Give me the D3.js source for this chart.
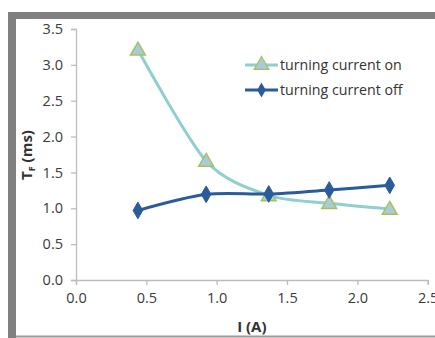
<!DOCTYPE html>
<html>
<head>
<meta charset="utf-8">
<script src="https://cdn.jsdelivr.net/npm/d3@7"></script>
<style>
  body { margin: 0; background: #fff; }
  svg { display: block; font-family: "Open Sans", sans-serif; }
</style>
</head>
<body>
<div id="chart"></div>
<script>
// data
const currents = [0.44, 0.925, 1.37, 1.80, 2.23];
const turnOn = [3.21, 1.66, 1.18, 1.07, 0.99];
const turnOff = [0.97, 1.195, 1.20, 1.255, 1.32];
const xTicks = [0, 0.5, 1.0, 1.5, 2.0, 2.5];
const yTicks = [0, 0.5, 1.0, 1.5, 2.0, 2.5, 3.0, 3.5];
const seriesNames = ['turning current on', 'turning current off'];

const W = 435, H = 338;
const margin = { top: 29, right: 7.3, bottom: 58, left: 76 };

const svg = d3.select('#chart').append('svg')
	.attr('width', W)
	.attr('height', H);

// grey frame round the chart
svg.append('rect').attr('x', 0).attr('y', 0).attr('width', W).attr('height', H).attr('fill', '#fff');
svg.append('rect').attr('x', 8).attr('y', 12).attr('width', W - 8).attr('height', 7).attr('fill', '#808080');
svg.append('rect').attr('x', 8).attr('y', 12).attr('width', 8).attr('height', H - 12).attr('fill', '#808080');
svg.append('rect').attr('x', 16).attr('y', 335.5).attr('width', W - 16).attr('height', 2).attr('fill', '#9a9a9a');

const x = d3.scaleLinear().domain([0, 2.5]).range([margin.left, W - margin.right]);
const y = d3.scaleLinear().domain([0, 3.5]).range([H - margin.bottom, margin.top]);

const xAxis = d3.axisBottom(x).tickValues(xTicks).tickSize(5).tickPadding(8).tickFormat(d3.format('.1f'));
const yAxis = d3.axisLeft(y).tickValues(yTicks).tickSize(5).tickPadding(8).tickFormat(d3.format('.1f'));

const gx = svg.append('g')
	.attr('transform', `translate(0, ${H - margin.bottom})`)
	.call(xAxis);
const gy = svg.append('g')
	.attr('transform', `translate(${margin.left}, 0)`)
	.call(yAxis);

[gx, gy].forEach(g => {
	g.select('.domain').attr('stroke', '#bcbcbc').attr('stroke-width', 1.3);
	g.selectAll('.tick line').attr('stroke', '#bcbcbc').attr('stroke-width', 1.3);
	g.selectAll('.tick text')
		.attr('fill', '#3a3a3a')
		.attr('font-size', 14.5)
		.attr('font-family', '"Open Sans", sans-serif');
});

// axis titles
svg.append('text')
	.attr('x', (margin.left + W - margin.right) / 2)
	.attr('y', 332)
	.attr('text-anchor', 'middle')
	.attr('font-size', 15)
	.attr('font-weight', 'bold')
	.attr('fill', '#333')
	.text('I (A)');

const yt = svg.append('text')
	.attr('transform', `translate(32, ${155}) rotate(-90)`)
	.attr('text-anchor', 'middle')
	.attr('font-size', 15)
	.attr('font-weight', 'bold')
	.attr('fill', '#333');
yt.append('tspan').text('T');
yt.append('tspan').attr('font-size', 9).attr('dy', 3).text('F');
yt.append('tspan').attr('dy', -3).text(' (ms)');

const onColor = '#8ecfcf';
const offColor = '#2a5b9b';
const triFill = '#a9cbd9';
const triStroke = '#a6c25a';

const line = d3.line()
	.x(d => x(d[0]))
	.y(d => y(d[1]))
	.curve(d3.curveCardinal.tension(0.15));

const onData = currents.map((c, i) => [c, turnOn[i]]);
const offData = currents.map((c, i) => [c, turnOff[i]]);

const tri = d3.symbol().type(d3.symbolTriangle).size(95);
const dia = d3.symbol().type(d3.symbolDiamond).size(80);

// on series
svg.append('path')
	.datum(onData)
	.attr('fill', 'none')
	.attr('stroke', onColor)
	.attr('stroke-width', 3)
	.attr('d', line);
svg.append('g').selectAll('path')
	.data(onData)
	.enter().append('path')
	.attr('transform', d => `translate(${x(d[0])}, ${y(d[1]) + 1})`)
	.attr('d', tri)
	.attr('fill', triFill)
	.attr('stroke', triStroke)
	.attr('stroke-width', 1.5);

// off series
svg.append('path')
	.datum(offData)
	.attr('fill', 'none')
	.attr('stroke', offColor)
	.attr('stroke-width', 3)
	.attr('d', line);
svg.append('g').selectAll('path')
	.data(offData)
	.enter().append('path')
	.attr('transform', d => `translate(${x(d[0])}, ${y(d[1])})`)
	.attr('d', dia)
	.attr('fill', offColor)
	.attr('stroke', offColor)
	.attr('stroke-width', 1);

// legend
const legend = svg.append('g');
const rows = [
	{ name: seriesNames[0], color: onColor, sym: tri, fill: triFill, stroke: triStroke, yy: 65 },
	{ name: seriesNames[1], color: offColor, sym: d3.symbol().type(d3.symbolDiamond).size(45), fill: offColor, stroke: offColor, yy: 90 }
];
rows.forEach(r => {
	legend.append('line')
		.attr('x1', 245).attr('x2', 278)
		.attr('y1', r.yy).attr('y2', r.yy)
		.attr('stroke', r.color).attr('stroke-width', 3);
	legend.append('path')
		.attr('transform', `translate(261.5, ${r.yy})`)
		.attr('d', r.sym)
		.attr('fill', r.fill)
		.attr('stroke', r.stroke)
		.attr('stroke-width', 1.2);
	legend.append('text')
		.attr('x', 280)
		.attr('y', r.yy)
		.attr('dy', '0.35em')
		.attr('font-size', 14.2)
		.attr('fill', '#333')
		.text(r.name);
});
</script>
</body>
</html>
